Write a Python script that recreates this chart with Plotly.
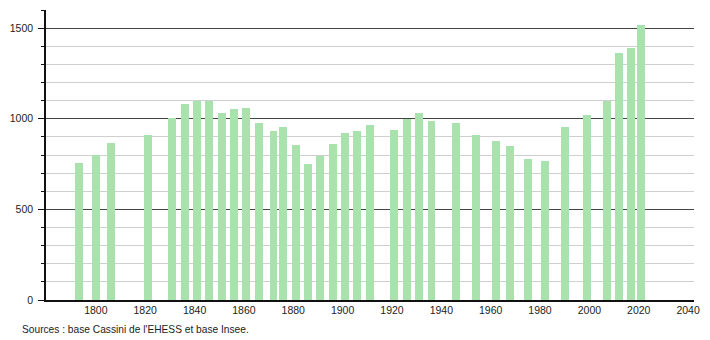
import plotly.graph_objects as go

years = [1793, 1800, 1806, 1821, 1831, 1836, 1841, 1846, 1851, 1856, 1861, 1866,
         1872, 1876, 1881, 1886, 1891, 1896, 1901, 1906, 1911, 1921, 1926, 1931,
         1936, 1946, 1954, 1962, 1968, 1975, 1982, 1990, 1999, 2007, 2012, 2017, 2021]
population = [756, 801, 867, 908, 1002, 1079, 1097, 1099, 1029, 1056, 1057, 978,
              934, 954, 856, 753, 797, 863, 922, 932, 968, 939, 1000, 1033,
              985, 978, 908, 878, 852, 779, 767, 956, 1022, 1097, 1362, 1389, 1517]

x_ticks = list(range(1800, 2041, 20))
y_ticks = [0, 500, 1000, 1500]
source_text = "Sources : base Cassini de l'EHESS et base Insee."

fig = go.Figure()
fig.add_trace(go.Bar(
    x=years, y=population, width=3.2,
    marker=dict(color="#a9e2ad", line=dict(width=0)),
    hoverinfo="x+y",
))

fig.update_layout(
    width=710, height=340,
    margin=dict(l=44, r=10, t=10, b=40),
    paper_bgcolor="white", plot_bgcolor="white",
    showlegend=False,
    font=dict(family="Liberation Sans, Arial, sans-serif", size=10.5, color="#222"),
    bargap=0,
)
fig.update_xaxes(
    range=[1779.8, 2042.4],
    tickmode="array", tickvals=x_ticks, ticktext=[str(t) for t in x_ticks],
    showgrid=False, zeroline=False,
    showline=True, linecolor="#111", linewidth=1.5,
    ticks="", tickfont=dict(size=10.5, color="#222"),
)
fig.update_yaxes(
    range=[0, 1600],
    tickmode="array", tickvals=y_ticks,
    showgrid=True, gridcolor="#444", gridwidth=1,
    zeroline=False,
    showline=True, linecolor="#111", linewidth=1.5,
    ticks="outside", ticklen=6, tickcolor="#111",
    ticklabelstandoff=3,
    tickfont=dict(size=10.5, color="#222"),
    minor=dict(dtick=100, tick0=0, showgrid=True, gridcolor="#cfcfcf", gridwidth=1,
               ticks="outside", ticklen=3, tickcolor="#111"),
)

fig.add_annotation(
    text=source_text, xref="paper", yref="paper",
    x=(18 - 44) / 656, y=(300 - 329) / 290, xanchor="left", yanchor="middle",
    showarrow=False, font=dict(size=10.2, color="#222"),
)

fig.write_html("out.html")
